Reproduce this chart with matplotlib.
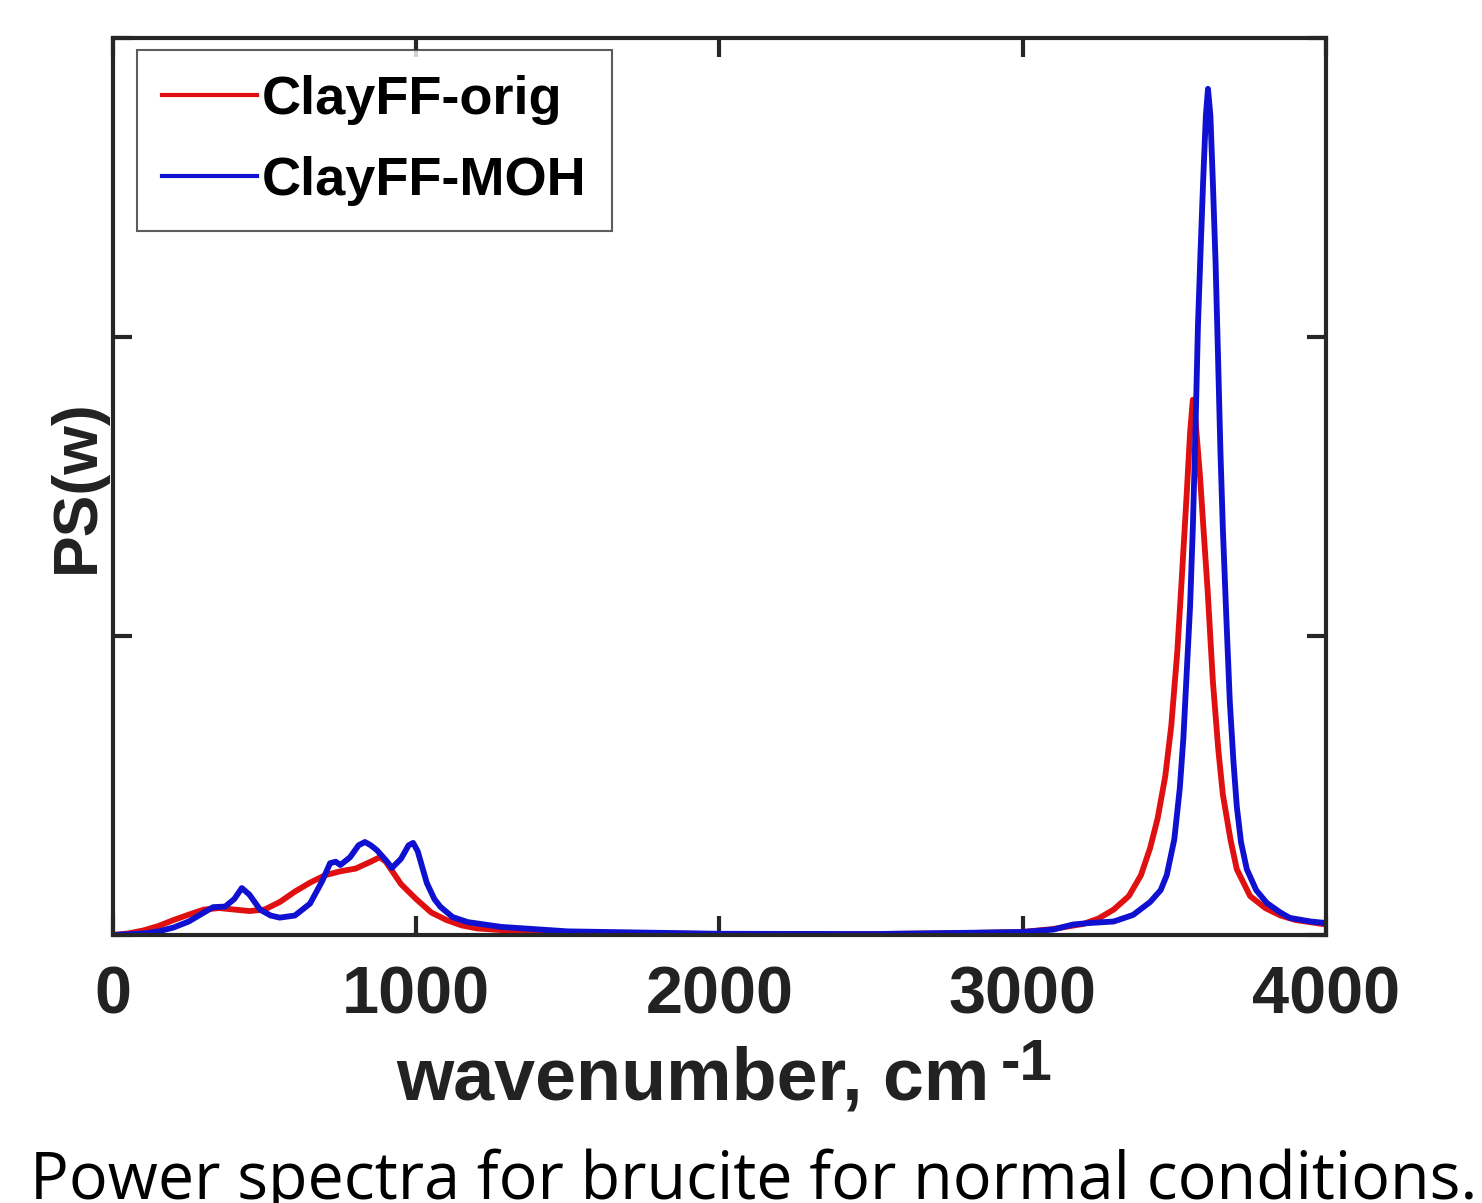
import numpy as np
import matplotlib.pyplot as plt

# spectra (wavenumber in cm^-1, PS in arbitrary units)
wn_orig = [0, 50, 100, 150, 200, 250, 300, 350, 400, 450, 500, 550, 600, 650, 700,
           750, 800, 850, 880, 900, 920, 950, 1000, 1050, 1100, 1150, 1200, 1300,
           1500, 2000, 2500, 2800, 3000, 3100, 3200, 3250, 3300, 3350, 3390, 3420,
           3445, 3470, 3490, 3510, 3525, 3540, 3552, 3561, 3570, 3585, 3600, 3610,
           3627, 3645, 3660, 3685, 3706, 3750, 3800, 3850, 3900, 4000]
ps_orig = [0, 0.005, 0.015, 0.03, 0.05, 0.068, 0.085, 0.09, 0.085, 0.08, 0.085,
           0.11, 0.145, 0.175, 0.2, 0.213, 0.222, 0.245, 0.26, 0.245, 0.215, 0.17,
           0.12, 0.075, 0.05, 0.032, 0.022, 0.015, 0.008, 0.003, 0.003, 0.006, 0.01,
           0.02, 0.037, 0.055, 0.085, 0.13, 0.2, 0.29, 0.39, 0.53, 0.7, 0.95, 1.2,
           1.46, 1.68, 1.79, 1.72, 1.53, 1.3, 1.15, 0.85, 0.62, 0.47, 0.32, 0.22,
           0.13, 0.09, 0.065, 0.05, 0.035]

wn_moh = [0, 100, 150, 200, 250, 300, 330, 370, 400, 425, 450, 485, 520, 550, 600,
          650, 690, 716, 735, 750, 782, 810, 831, 850, 870, 900, 920, 950, 975, 990,
          1005, 1035, 1060, 1080, 1120, 1170, 1280, 1500, 2000, 2500, 2800, 3000,
          3100, 3166, 3220, 3300, 3364, 3420, 3455, 3475, 3500, 3518, 3530, 3541,
          3552, 3561, 3570, 3578, 3587, 3595, 3604, 3611, 3619, 3627, 3636, 3644,
          3652, 3660, 3672, 3683, 3695, 3706, 3720, 3739, 3770, 3805, 3850, 3881,
          3950, 4000]
ps_moh = [0, 0.005, 0.012, 0.025, 0.045, 0.075, 0.093, 0.095, 0.12, 0.157, 0.135,
          0.085, 0.065, 0.058, 0.065, 0.105, 0.18, 0.24, 0.245, 0.234, 0.26, 0.3,
          0.311, 0.3, 0.284, 0.25, 0.224, 0.255, 0.3, 0.308, 0.28, 0.174, 0.12, 0.094,
          0.06, 0.043, 0.027, 0.012, 0.004, 0.003, 0.007, 0.01, 0.018, 0.035, 0.04,
          0.045, 0.067, 0.11, 0.15, 0.2, 0.32, 0.49, 0.66, 0.88, 1.1, 1.36, 1.7, 2.04,
          2.3, 2.52, 2.74, 2.83, 2.74, 2.52, 2.25, 1.94, 1.62, 1.36, 1.05, 0.78, 0.58,
          0.43, 0.31, 0.22, 0.15, 0.107, 0.075, 0.057, 0.045, 0.04]

xticks = [0, 1000, 2000, 3000, 4000]

plt.rcParams['font.family'] = ['Liberation Sans', 'DejaVu Sans']

fig = plt.figure(figsize=(14.82, 12.03), dpi=100)
ax = fig.add_axes([0.0762, 0.2228, 0.8185, 0.7456])

ax.plot(wn_orig, ps_orig, color='#e01010', lw=4.2, label='ClayFF-orig')
ax.plot(wn_moh, ps_moh, color='#1010d0', lw=4.2, label='ClayFF-MOH')

ax.set_xlim(0, 4000)
ax.set_ylim(0, 3)
ax.set_xticks(xticks)
ax.set_yticks([0, 1, 2, 3])
ax.set_yticklabels([])
ax.tick_params(direction='in', length=14, width=3, color='#262626',
               top=True, right=True, labelsize=48, pad=22)
for lab in ax.get_xticklabels():
    lab.set_fontweight('bold')
    lab.set_color('#222222')
for sp in ax.spines.values():
    sp.set_linewidth(3)
    sp.set_color('#262626')

ax.set_xlabel('wavenumber, cm', fontsize=53, fontweight='bold', color='#222222',
              va='top')
ax.xaxis.set_label_coords(0.478, -0.1237)
ax.annotate('-1', xy=(1, 1), xycoords=ax.xaxis.label, xytext=(8, 6),
            textcoords='offset points', ha='left', va='top',
            fontsize=42, fontweight='bold', color='#222222')

ax.set_ylabel('PS(w)', fontsize=45, fontweight='bold', color='#222222')
ax.yaxis.set_label_coords(-0.005, 0.5)

leg = ax.legend(loc='upper left', bbox_to_anchor=(0.0198, 0.9866),
                borderaxespad=0, fancybox=False, frameon=True,
                prop={'size': 39, 'weight': 'bold'}, handlelength=1.75,
                handletextpad=0.1, borderpad=0.46, labelspacing=0.57)
leg.get_frame().set_edgecolor('#333333')
leg.get_frame().set_linewidth(1.5)
for h in leg.get_lines():
    h.set_linewidth(3)

fig.text(0.02, 0.003, 'Power spectra for brucite for normal conditions.',
         fontsize=46.5, family='Open Sans', va='baseline', ha='left')

fig.savefig('out.png', dpi=100)
